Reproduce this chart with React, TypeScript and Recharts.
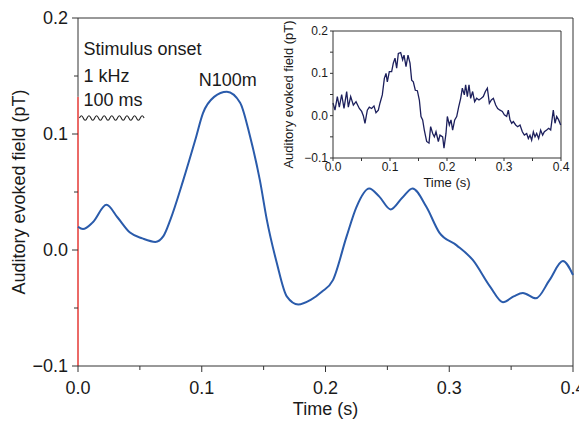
import React from 'react';
import { LineChart, Line, XAxis, YAxis, ReferenceLine, ReferenceDot } from 'recharts';

// ---- Main averaged (filtered) response ----
const mainTime = [0.000, 0.004, 0.012, 0.023, 0.032, 0.042, 0.052, 0.0625, 0.069, 0.0746, 0.085, 0.0948, 0.101, 0.110, 0.1203, 0.131, 0.139, 0.147, 0.1526, 0.1606, 0.1687, 0.178, 0.188, 0.197, 0.206, 0.217, 0.225, 0.2353, 0.2435, 0.2526, 0.262, 0.2703, 0.2816, 0.292, 0.306, 0.319, 0.333, 0.3434, 0.352, 0.3595, 0.370, 0.381, 0.3918, 0.400];
const mainField = [0.020, 0.018, 0.024, 0.039, 0.028, 0.015, 0.010, 0.007, 0.012, 0.026, 0.060, 0.095, 0.118, 0.132, 0.1365, 0.127, 0.098, 0.060, 0.026, -0.011, -0.040, -0.047, -0.043, -0.036, -0.026, 0.0115, 0.037, 0.053, 0.046, 0.035, 0.045, 0.053, 0.037, 0.015, 0.004, -0.0086, -0.0316, -0.045, -0.040, -0.037, -0.0417, -0.026, -0.0095, -0.0216];

// ---- Inset raw response ----
const insetTime = [0.0000, 0.0035, 0.0076, 0.0111, 0.0152, 0.0193, 0.0240, 0.0269, 0.0310, 0.0357, 0.0404, 0.0462, 0.0503, 0.0532, 0.0561, 0.0602, 0.0637, 0.0678, 0.0719, 0.0754, 0.0795, 0.0825, 0.0865, 0.0901, 0.0930, 0.0953, 0.0988, 0.1029, 0.1058, 0.1088, 0.1117, 0.1146, 0.1187, 0.1222, 0.1246, 0.1281, 0.1316, 0.1351, 0.1380, 0.1409, 0.1444, 0.1480, 0.1515, 0.1544, 0.1573, 0.1602, 0.1643, 0.1684, 0.1713, 0.1749, 0.1778, 0.1807, 0.1848, 0.1877, 0.1924, 0.1947, 0.1982, 0.2006, 0.2041, 0.2070, 0.2099, 0.2135, 0.2170, 0.2205, 0.2240, 0.2269, 0.2304, 0.2327, 0.2357, 0.2386, 0.2415, 0.2450, 0.2485, 0.2520, 0.2561, 0.2602, 0.2637, 0.2673, 0.2708, 0.2743, 0.2778, 0.2813, 0.2854, 0.2889, 0.2930, 0.2971, 0.3006, 0.3047, 0.3076, 0.3105, 0.3135, 0.3164, 0.3205, 0.3240, 0.3281, 0.3322, 0.3357, 0.3398, 0.3427, 0.3456, 0.3485, 0.3515, 0.3544, 0.3573, 0.3608, 0.3643, 0.3678, 0.3708, 0.3749, 0.3784, 0.3819, 0.3842, 0.3865, 0.3895, 0.3924, 0.3959, 0.3994];
const insetField = [0.030, 0.013, 0.045, 0.020, 0.050, 0.017, 0.057, 0.020, 0.045, 0.025, 0.033, 0.017, 0.010, 0.000, -0.018, 0.013, 0.020, 0.017, 0.023, 0.007, 0.013, 0.030, 0.049, 0.088, 0.100, 0.080, 0.104, 0.104, 0.124, 0.136, 0.112, 0.147, 0.149, 0.132, 0.143, 0.116, 0.143, 0.124, 0.084, 0.080, 0.060, 0.059, 0.037, -0.002, -0.010, -0.034, -0.061, -0.065, -0.026, -0.042, -0.050, -0.038, -0.061, -0.046, -0.050, -0.077, -0.042, -0.002, -0.022, -0.010, -0.034, -0.010, -0.002, 0.021, 0.041, 0.065, 0.049, 0.073, 0.045, 0.073, 0.041, 0.057, 0.033, 0.041, 0.037, 0.041, 0.045, 0.057, 0.065, 0.029, 0.037, 0.041, 0.025, 0.017, 0.013, 0.010, 0.002, -0.002, 0.013, -0.010, -0.018, -0.014, -0.022, -0.026, -0.022, -0.038, -0.046, -0.042, -0.054, -0.046, -0.058, -0.038, -0.050, -0.042, -0.054, -0.034, -0.046, -0.038, -0.034, -0.030, -0.034, -0.010, 0.013, -0.018, -0.002, -0.010, -0.022];

// ---- Axes ----
const xTicks = [0, 0.05, 0.1, 0.15, 0.2, 0.25, 0.3, 0.35, 0.4];
const yTicks = [-0.1, -0.05, 0, 0.05, 0.1, 0.15, 0.2];

// ---- Annotations ----
const stimulusLines = ['Stimulus onset', '1 kHz', '100 ms'];
const stimulusTextT = 0.0044;
const stimulusTextV = [0.1733, 0.150, 0.1293];
const peakLabel = 'N100m';
const peakLabelT = 0.121;
const peakLabelV = 0.1466;
const onsetTop = 0.132;
const waveStart = 0.0012;
const waveEnd = 0.0552;
const waveLevel = 0.1138;

const FONT = '"Liberation Sans", Arial, Helvetica, sans-serif';
const AXIS = '#333';
const TEXT = '#1a1a1a';

const mainData = mainTime.map((t, i) => ({ t, v: mainField[i] }));
const insetData = insetTime.map((t, i) => ({ t, v: insetField[i] }));

const isMajor = (v: number) => Math.abs(v * 10 - Math.round(v * 10)) < 1e-6;
const fmt = (v: number) => {
  const s = Math.abs(v).toFixed(1);
  return v < -1e-9 ? '\u2212' + s : s;
};

const makeYTick = (majorLen: number, minorLen: number, gap: number, fontSize: number) => (props: any) => {
  const { x, y, payload } = props;
  const major = isMajor(payload.value);
  return (
    <g>
      <line x1={x} x2={x - (major ? majorLen : minorLen)} y1={y} y2={y} stroke={AXIS} strokeWidth={1} />
      {major && (
        <text x={x - gap} y={y} textAnchor="end" dominantBaseline="central" fontSize={fontSize} fontFamily={FONT} fill={TEXT}>
          {fmt(payload.value)}
        </text>
      )}
    </g>
  );
};

const makeXTick = (majorLen: number, minorLen: number, gap: number, fontSize: number) => (props: any) => {
  const { x, y, payload } = props;
  const major = isMajor(payload.value);
  return (
    <g>
      <line x1={x} x2={x} y1={y} y2={y + (major ? majorLen : minorLen)} stroke={AXIS} strokeWidth={1} />
      {major && (
        <text x={x} y={y + gap} textAnchor="middle" dominantBaseline="central" fontSize={fontSize} fontFamily={FONT} fill={TEXT}>
          {fmt(payload.value)}
        </text>
      )}
    </g>
  );
};

const wavyShape = (props: any) => {
  const { x1, y1, x2 } = props;
  const half = 3.8;
  const amp = 2.2;
  let d = `M ${x1} ${y1}`;
  let x = x1;
  let up = true;
  while (x + half <= x2 + 0.1) {
    d += ` Q ${x + half / 2} ${y1 + (up ? -2 * amp : 2 * amp)} ${x + half} ${y1}`;
    x += half;
    up = !up;
  }
  return <path d={d} fill="none" stroke="#222" strokeWidth={1.1} />;
};

const textShape = (label: string, anchor: string, size: number) => (props: any) => (
  <text x={props.cx} y={props.cy} textAnchor={anchor} dominantBaseline="central" fontSize={size} fontFamily={FONT} fill={TEXT}>
    {label}
  </text>
);

const yLabel = (offset: number, size: number, text: string) => (props: any) => {
  const vb = props.viewBox || {};
  const cx = vb.x + offset;
  const cy = vb.y + vb.height / 2;
  return (
    <text x={cx} y={cy} transform={`rotate(-90 ${cx} ${cy})`} textAnchor="middle" dominantBaseline="central" fontSize={size} fontFamily={FONT} fill={TEXT}>
      {text}
    </text>
  );
};

const xLabel = (offset: number, size: number, text: string) => (props: any) => {
  const vb = props.viewBox || {};
  const cx = vb.x + vb.width / 2;
  const cy = vb.y + offset;
  return (
    <text x={cx} y={cy} textAnchor="middle" dominantBaseline="central" fontSize={size} fontFamily={FONT} fill={TEXT}>
      {text}
    </text>
  );
};

export default function App() {
  return (
    <div style={{ position: 'relative', width: 579, height: 413, background: '#fff' }}>
      <LineChart width={579} height={413} data={mainData} margin={{ top: 10, right: 14, bottom: 0, left: 0 }}>
        <XAxis
          dataKey="t"
          type="number"
          domain={[0, 0.4]}
          ticks={xTicks}
          interval={0}
          tickLine={false}
          tickSize={0}
          tickMargin={0}
          height={55}
          stroke={AXIS}
          tick={makeXTick(6, 4, 22, 18)}
          label={{ content: xLabel(43, 18, 'Time (s)') }}
        />
        <YAxis
          dataKey="v"
          type="number"
          domain={[-0.1, 0.2]}
          allowDataOverflow
          ticks={yTicks}
          interval={0}
          axisLine={false}
          tickLine={false}
          tickSize={0}
          tickMargin={0}
          width={70}
          stroke={AXIS}
          tick={makeYTick(6, 4, 10, 18)}
          label={{ content: yLabel(11, 18, 'Auditory evoked field (pT)') }}
        />
        <ReferenceLine y={0.2} stroke={AXIS} strokeWidth={1} />
        <ReferenceLine x={0.4} stroke={AXIS} strokeWidth={1} />
        <ReferenceLine segment={[{ x: 0, y: onsetTop }, { x: 0, y: 0.2 }]} stroke={AXIS} strokeWidth={1} />
        <ReferenceLine segment={[{ x: 0, y: -0.1 }, { x: 0, y: onsetTop }]} stroke="#e53935" strokeWidth={1.5} />
        <ReferenceLine segment={[{ x: waveStart, y: waveLevel }, { x: waveEnd, y: waveLevel }]} shape={wavyShape} />
        {stimulusLines.map((s, i) => (
          <ReferenceDot key={s} x={stimulusTextT} y={stimulusTextV[i]} r={0} shape={textShape(s, 'start', 18)} />
        ))}
        <ReferenceDot x={peakLabelT} y={peakLabelV} r={0} shape={textShape(peakLabel, 'middle', 18)} />
        <Line type="monotone" dataKey="v" stroke="#2a5bab" strokeWidth={2} dot={false} isAnimationActive={false} />
      </LineChart>
      <div style={{ position: 'absolute', left: 262, top: 12 }}>
        <LineChart width={300} height={175} data={insetData} margin={{ top: 11, right: 9, bottom: 0, left: 0 }}>
          <XAxis
            dataKey="t"
            type="number"
            domain={[0, 0.4]}
            ticks={xTicks}
            interval={0}
            tickLine={false}
            tickSize={0}
            tickMargin={0}
            height={37}
            stroke={AXIS}
            tick={makeXTick(3, 3, 9, 12)}
            label={{ content: xLabel(24, 13, 'Time (s)') }}
          />
          <YAxis
            dataKey="v"
            type="number"
            domain={[-0.1, 0.2]}
            allowDataOverflow
            ticks={yTicks}
            interval={0}
            tickLine={false}
            tickSize={0}
            tickMargin={0}
            width={63}
            stroke={AXIS}
            tick={makeYTick(3, 3, 5, 12)}
            label={{ content: yLabel(18, 13, 'Auditory evoked field (pT)') }}
          />
          <ReferenceLine y={0.2} stroke={AXIS} strokeWidth={1} />
          <ReferenceLine x={0.4} stroke={AXIS} strokeWidth={1} />
          <Line type="linear" dataKey="v" stroke="#1c1f5c" strokeWidth={1.3} dot={false} isAnimationActive={false} />
        </LineChart>
      </div>
    </div>
  );
}
